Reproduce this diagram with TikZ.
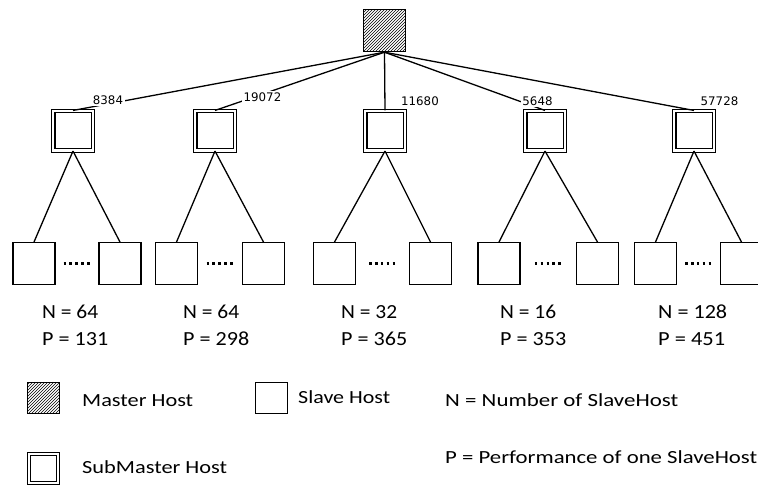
\documentclass[tikz,border=0pt]{standalone}
\usepackage{fontspec}
\usepackage{graphicx}
\setmainfont{Carlito}
\newfontfamily\numfont{DejaVu Sans}
\usetikzlibrary{patterns,calc}
\newsavebox\fxbox
\newcommand{\fitx}[2]{\sbox\fxbox{#2}\pgfmathsetmacro\fxr{#1/\the\wd\fxbox}\scalebox{\fxr}[1]{\usebox\fxbox}}
\tikzset{
  box/.style={draw, line width=1.4pt, minimum size=42pt, inner sep=0pt},
  masterbox/.style={box, pattern=north east lines},
  subbox/.style={draw, line width=1.1pt, double, double distance=2.3pt, minimum size=39.5pt, inner sep=0pt},
  legbox/.style={draw, line width=1.3pt, minimum width=32pt, minimum height=31pt, inner sep=0pt},
  legmaster/.style={legbox, pattern=north east lines},
  legsub/.style={draw, line width=1.1pt, double, double distance=2pt, minimum size=28.5pt, inner sep=0pt},
  link/.style={line width=1.3pt},
  numlbl/.style={font=\numfont\fontsize{11.8}{14}\selectfont, fill=white, inner sep=1.5pt},
  lbl/.style={anchor=base west, inner sep=0pt, font=\fontsize{20}{24}\selectfont},
  leg/.style={anchor=base west, inner sep=0pt, font=\fontsize{18.5}{22}\selectfont},
  dotline/.style={line width=2.6pt, dash pattern=on 2.6pt off 3.3pt}
}
\begin{document}
\begin{tikzpicture}[x=1pt,y=-1pt]
\useasboundingbox (0,0) rectangle (758,487);
\clip (0,0) rectangle (758,487);
% master
\node[masterbox] (M) at (384.5,30.5) {};
% submasters
\node[subbox] (S1) at (73,130.75) {};
\node[subbox] (S2) at (215,130.75) {};
\node[subbox] (S3) at (385,130.75) {};
\node[subbox] (S4) at (545,130.75) {};
\node[subbox] (S5) at (694,130.75) {};
% slaves
\node[box] (A1) at (34,263.75) {};
\node[box] (B1) at (120,263.75) {};
\node[box] (A2) at (176.5,263.75) {};
\node[box] (B2) at (263.5,263.75) {};
\node[box] (A3) at (334.5,263.75) {};
\node[box] (B3) at (430.5,263.75) {};
\node[box] (A4) at (499,263.75) {};
\node[box] (B4) at (597.5,263.75) {};
\node[box] (A5) at (655.5,263.75) {};
\node[box] (B5) at (741.5,263.75) {};
% links master -> submasters
\foreach \s in {S1,S2,S3,S4,S5} \draw[link] (M.south) -- (\s.north);
% links submasters -> slaves
\foreach \i in {1,...,5} {
  \draw[link] (S\i.south) -- (A\i.north);
  \draw[link] (S\i.south) -- (B\i.north);
  \draw[dotline] ($(A\i.east)!0.5!(B\i.west)+(-13.5,0)$) -- ++(27,0);
}
% numbers
\node[numlbl] (n1) at (108,100) {8384};
\node[numlbl] (n2) at (262.5,97) {19072};
\node[numlbl] (n3) at (420,101) {11680};
\node[numlbl] (n4) at (537.5,101) {5648};
\node[numlbl] (n5) at (719.5,101) {57728};
% N / P labels
\node[lbl] (t1n) at (42,318) {\fitx{56}{N = 64}};
\node[lbl] (t1p) at (42,345) {\fitx{66}{P = 131}};
\node[lbl] (t2n) at (183,318) {\fitx{56}{N = 64}};
\node[lbl] (t2p) at (183,345) {\fitx{66}{P = 298}};
\node[lbl] (t3n) at (341,318) {\fitx{56}{N = 32}};
\node[lbl] (t3p) at (341,345) {\fitx{66}{P = 365}};
\node[lbl] (t4n) at (500,318) {\fitx{56}{N = 16}};
\node[lbl] (t4p) at (500,345) {\fitx{66}{P = 353}};
\node[lbl] (t5n) at (658,318) {\fitx{69}{N = 128}};
\node[lbl] (t5p) at (658,345) {\fitx{67}{P = 451}};
% legend
\node[legmaster] (LM) at (43.5,398) {};
\node[legbox] (LS) at (271.5,398) {};
\node[legsub] (LB) at (43.5,468.5) {};
\node[leg] (lm) at (82,406) {\fitx{111}{Master Host}};
\node[leg] (ls) at (298,403) {\fitx{92}{Slave Host}};
\node[leg] (lb) at (82,473) {\fitx{145}{SubMaster Host}};
\node[leg] (ln) at (445,406) {\fitx{233}{N = Number of SlaveHost}};
\node[leg] (lp) at (445,463) {\fitx{312}{P = Performance of one SlaveHost}};
\end{tikzpicture}
\end{document}
